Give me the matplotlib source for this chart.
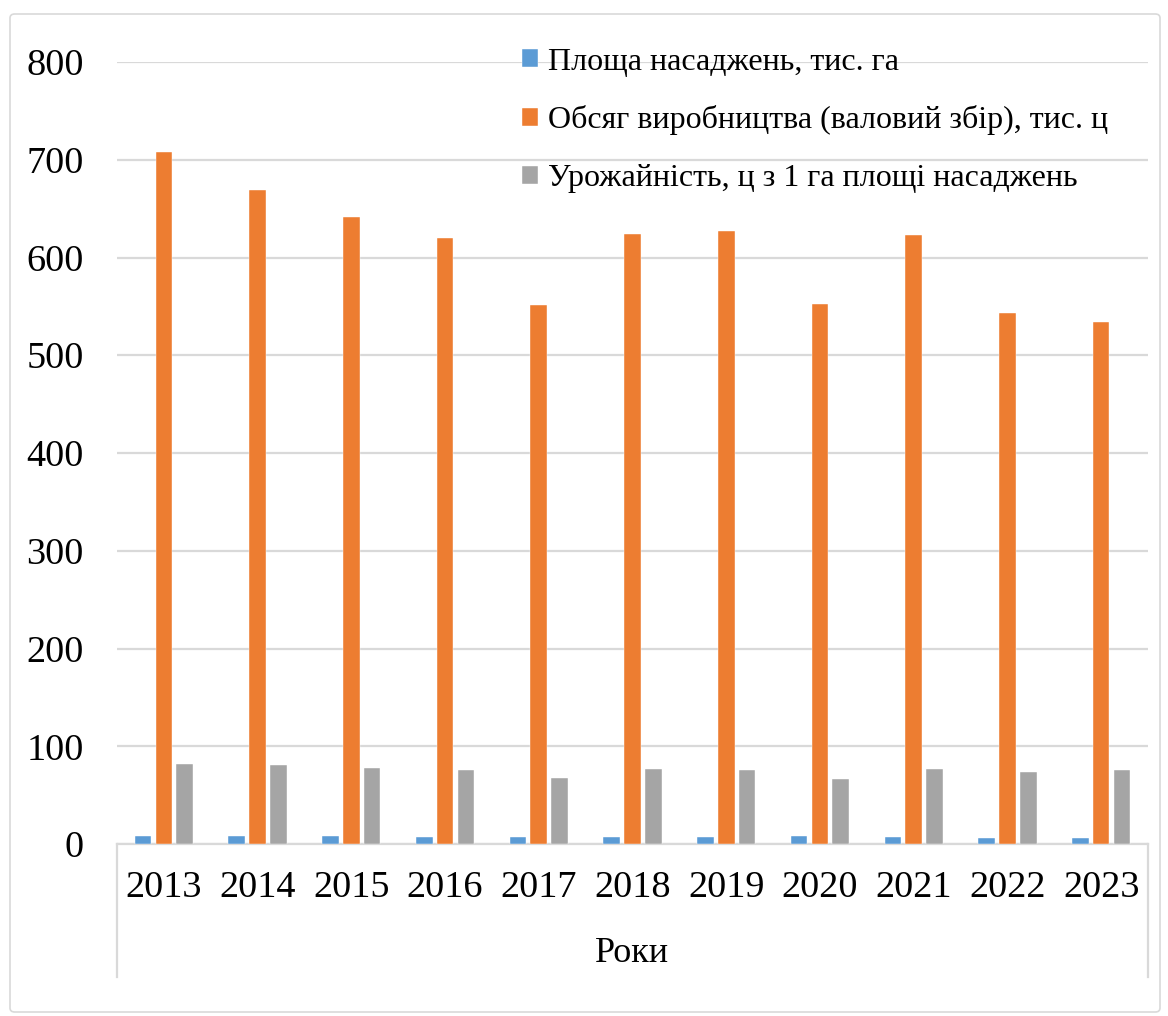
import matplotlib
matplotlib.use('Agg')
import matplotlib.pyplot as plt
from matplotlib.patches import FancyBboxPatch
import numpy as np

# Data
years = ['2013', '2014', '2015', '2016', '2017', '2018', '2019', '2020', '2021', '2022', '2023']
area = [8.4, 7.7, 7.7, 7.0, 7.3, 7.3, 7.3, 7.7, 7.3, 6.3, 6.3]
production = [708, 669, 641, 620, 551, 624, 627, 552, 623, 543, 534]
yield_ha = [82.2, 80.4, 77.4, 76.0, 67.8, 76.3, 76.0, 67.0, 76.3, 74.0, 76.0]

labels = ['Площа насаджень, тис. га',
          'Обсяг виробництва (валовий збір), тис. ц',
          'Урожайність, ц з 1 га площі насаджень']
colors = ['#5B9BD5', '#ED7D31', '#A5A5A5']

plt.rcParams['font.family'] = ['Liberation Serif', 'DejaVu Serif']

fig = plt.figure(figsize=(11.68, 10.16), dpi=100)

# Outer chart border
border = FancyBboxPatch((10 / 1168, 4 / 1016), 1150 / 1168, 998 / 1016,
                        boxstyle='round,pad=0,rounding_size=0.004',
                        transform=fig.transFigure, facecolor='white',
                        edgecolor='#D9D9D9', linewidth=1.2, zorder=-5)
fig.patches.append(border)

ax = fig.add_axes([117 / 1168, 1 - 844 / 1016, 1031 / 1168, 782 / 1016])
ax.set_facecolor('none')

x = np.arange(len(years))
width = 0.178
step = 0.222

for i, (series, lab, col) in enumerate(zip([area, production, yield_ha], labels, colors)):
    ax.bar(x + (i - 1) * step, series, width, color=col, label=lab,
           edgecolor='white', linewidth=0.3, zorder=3)

ax.set_xlim(-0.5, len(years) - 0.5)
ax.set_ylim(0, 800)
ax.set_yticks(range(0, 801, 100))
ax.grid(axis='y', color='#D9D9D9', linewidth=1.6, zorder=0)

for side in ['left', 'right', 'top']:
    ax.spines[side].set_visible(False)
ax.spines['bottom'].set_color('#D9D9D9')
ax.spines['bottom'].set_linewidth(1.6)

ax.set_xticks(x)
ax.set_xticklabels(years)
ax.tick_params(axis='both', length=0, labelsize=27.5, colors='black')
ax.tick_params(axis='y', pad=24)
ax.tick_params(axis='x', pad=19)

# Category group box with the "Роки" label
box_bottom = -(977 - 844) / 782
ax.plot([0, 0], [0, box_bottom], transform=ax.transAxes, color='#D9D9D9',
        linewidth=1.6, clip_on=False)
ax.plot([1, 1], [0, box_bottom], transform=ax.transAxes, color='#D9D9D9',
        linewidth=1.6, clip_on=False)
ax.text(0.5, -(954 - 844) / 782, 'Роки', transform=ax.transAxes,
        ha='center', va='center', fontsize=26)

leg = ax.legend(loc='upper left', bbox_to_anchor=(0.393, 1.0185), frameon=False,
                fontsize=23, borderpad=0, borderaxespad=0, handlelength=0.5,
                handleheight=0.5, handletextpad=0.3, labelspacing=0.9)

fig.savefig('out.png', dpi=100)
